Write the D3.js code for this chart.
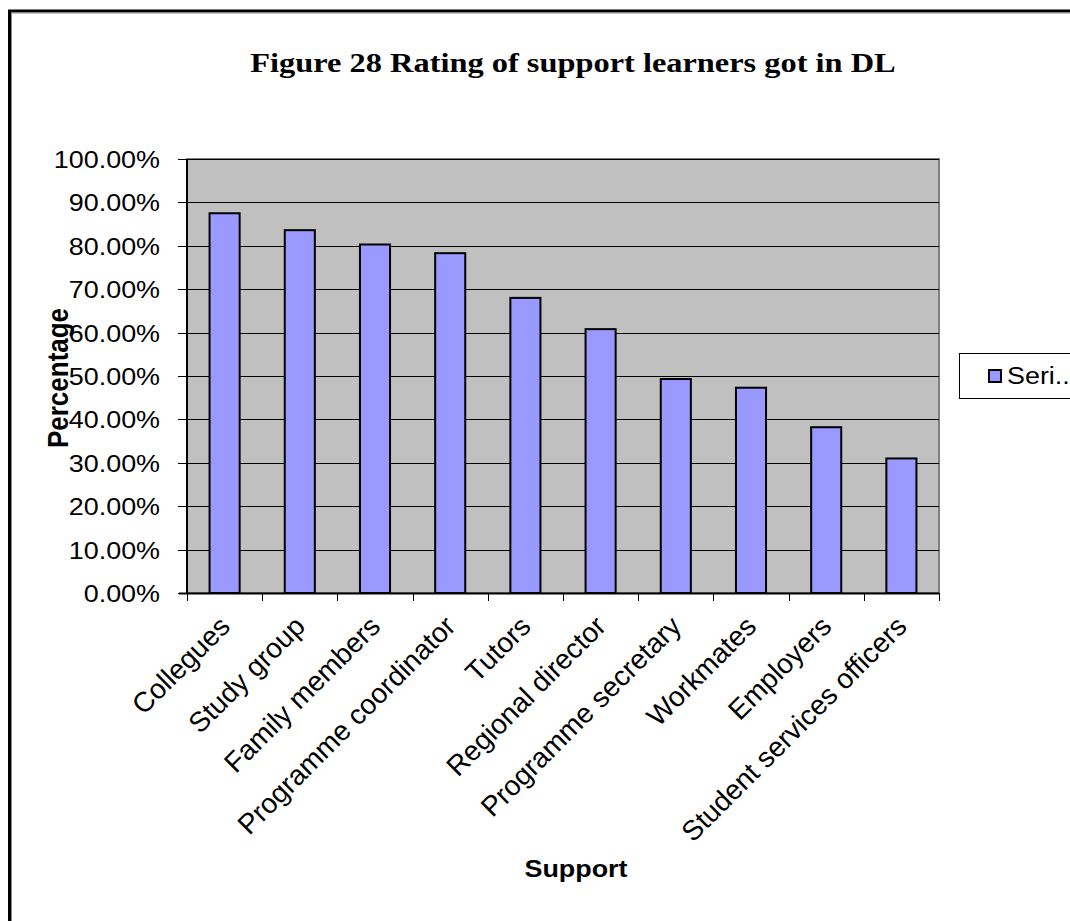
<!DOCTYPE html>
<html>
<head>
<meta charset="utf-8">
<script src="https://cdn.jsdelivr.net/npm/d3@7"></script>
<style>
html,body{margin:0;padding:0;background:#fff;}
svg{display:block;}
text{font-family:"Liberation Sans",Arial,sans-serif;fill:#000;}
</style>
</head>
<body>
<svg id="chart" width="1070" height="921"></svg>
<script>
// ---- data ----
const categories = ["Collegues","Study group","Family members","Programme coordinator","Tutors","Regional director","Programme secretary","Workmates","Employers","Student services officers"];
const values = [0.875, 0.836, 0.803, 0.783, 0.680, 0.608, 0.493, 0.473, 0.382, 0.310];
const yTicks = [0,0.1,0.2,0.3,0.4,0.5,0.6,0.7,0.8,0.9,1.0];
const seriesName = "Seri..";
const titleText = "Figure 28 Rating of support learners got in DL";
const xTitle = "Support";
const yTitle = "Percentage";

const SX = 1.17; // horizontal text stretch seen in reference
const svg = d3.select("#chart");

// outer border
svg.append("rect").attr("x",9.5).attr("y",11).attr("width",1200).attr("height",1000)
  .attr("fill","none").attr("stroke","#000").attr("stroke-width",3);
svg.append("rect").attr("x",11.5).attr("y",13).attr("width",1200).attr("height",1000)
  .attr("fill","none").attr("stroke","#888").attr("stroke-width",1);

const L=187, R=939, T=159, B=593;
const x = d3.scaleBand().domain(categories).range([L,R]).paddingInner(0.6).paddingOuter(0.3);
const y = d3.scaleLinear().domain([0,1]).range([B,T]);

// plot area
svg.append("rect").attr("x",L).attr("y",T).attr("width",R-L).attr("height",B-T)
  .attr("fill","#c0c0c0").attr("stroke","#808080").attr("stroke-width",2);

// gridlines
svg.append("g").selectAll("line").data(yTicks.filter(d=>d>0)).join("line")
  .attr("x1",L).attr("x2",R).attr("y1",d=>Math.round(y(d))+0.5).attr("y2",d=>Math.round(y(d))+0.5)
  .attr("stroke","#000").attr("stroke-width",1);

// bars
svg.append("g").selectAll("rect").data(values).join("rect")
  .attr("x",(d,i)=>x(categories[i]))
  .attr("y",d=>y(d))
  .attr("width",x.bandwidth())
  .attr("height",d=>B-y(d))
  .attr("fill","#9999ff").attr("stroke","#000").attr("stroke-width",2);

// y axis line + ticks
svg.append("line").attr("x1",L).attr("x2",L).attr("y1",T).attr("y2",B).attr("stroke","#000").attr("stroke-width",2);
svg.append("g").selectAll("line").data(yTicks).join("line")
  .attr("x1",L-9).attr("x2",L).attr("y1",d=>Math.round(y(d))+0.5).attr("y2",d=>Math.round(y(d))+0.5)
  .attr("stroke","#000").attr("stroke-width",1);
svg.append("g").selectAll("g").data(yTicks).join("g")
  .attr("transform",d=>`translate(160,${y(d)+9}) scale(${SX},1)`)
  .append("text").attr("text-anchor","end").attr("font-size",23)
  .text(d=>d3.format(".2%")(d));

// x axis line + ticks
svg.append("line").attr("x1",L-8).attr("x2",R).attr("y1",B+0.5).attr("y2",B+0.5).attr("stroke","#000").attr("stroke-width",2);
const bounds = d3.range(categories.length+1).map(i=>L + i*x.step());
svg.append("g").selectAll("line").data(bounds).join("line")
  .attr("x1",d=>Math.round(d)+0.5).attr("x2",d=>Math.round(d)+0.5).attr("y1",B).attr("y2",B+8)
  .attr("stroke","#000").attr("stroke-width",1);

// x labels rotated
svg.append("g").selectAll("g").data(categories).join("g")
  .attr("transform",d=>`translate(${x(d)+x.bandwidth()/2+7},${B+35}) rotate(-45)`)
  .append("text").attr("text-anchor","end").attr("font-size",28).text(d=>d);

// title
svg.append("g").attr("transform",`translate(573,72) scale(1.2,1)`)
  .append("text").attr("text-anchor","middle").attr("font-size",27).attr("font-weight","bold")
  .style("font-family","'Liberation Serif','Times New Roman',serif").text(titleText);

// axis titles
svg.append("g").attr("transform",`translate(576,877) scale(${SX},1)`)
  .append("text").attr("text-anchor","middle").attr("font-size",23).attr("font-weight","bold").text(xTitle);
svg.append("g").attr("transform",`translate(68,378) scale(${SX},1) rotate(-90)`)
  .append("text").attr("text-anchor","middle").attr("font-size",26).attr("font-weight","bold").text(yTitle);

// legend
const lg = svg.append("g");
lg.append("rect").attr("x",959.5).attr("y",353.5).attr("width",200).attr("height",45)
  .attr("fill","#fff").attr("stroke","#000").attr("stroke-width",1);
lg.append("rect").attr("x",989).attr("y",370).attr("width",12).attr("height",12)
  .attr("fill","#9999ff").attr("stroke","#000").attr("stroke-width",2);
lg.append("g").attr("transform",`translate(1007,384) scale(${SX},1)`)
  .append("text").attr("font-size",23).text(seriesName);
</script>
</body>
</html>
